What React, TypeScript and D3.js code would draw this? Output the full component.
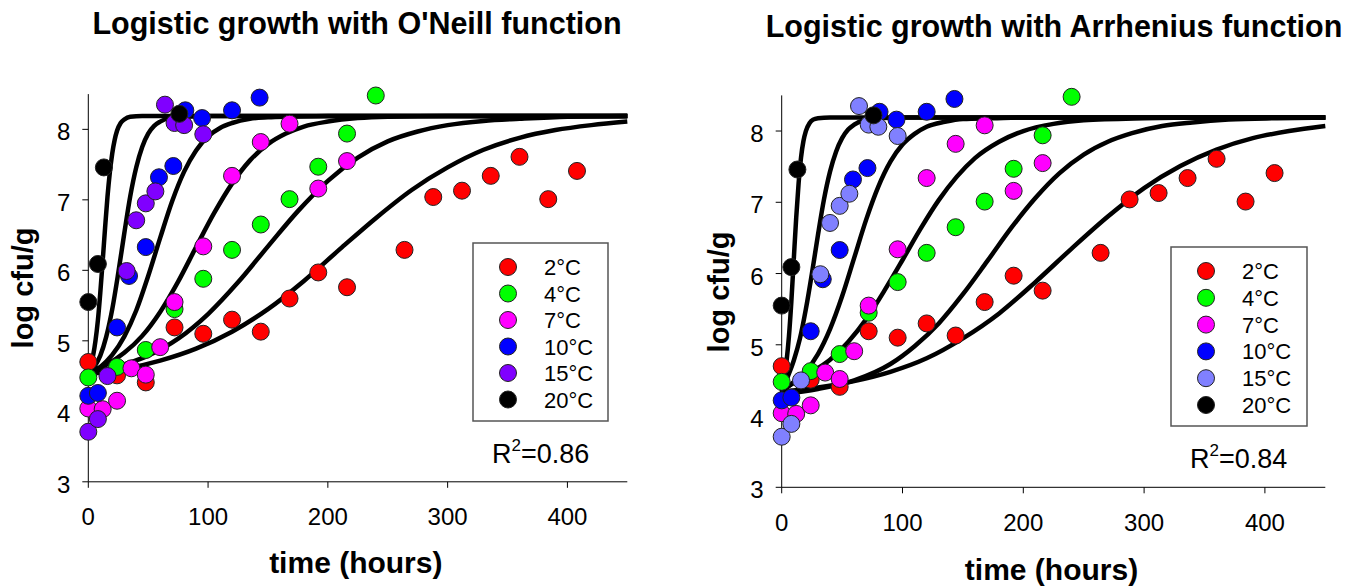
import React from 'react';
import * as d3 from 'd3';

// ---- observed counts (log cfu/g) by storage temperature ----
const temps = ['2°C', '4°C', '7°C', '10°C', '15°C', '20°C'];

const hours2 = [0, 24, 48, 72, 96, 120, 144, 168, 192, 216, 264, 288, 312, 336, 360, 384, 408];
const log2 = [4.70, 4.51, 4.41, 5.19, 5.10, 5.30, 5.13, 5.60, 5.97, 5.76, 6.29, 7.04, 7.13, 7.34, 7.61, 7.01, 7.41];

const hours4 = [0, 24, 48, 72, 96, 120, 144, 168, 192, 216, 240];
const log4 = [4.48, 4.63, 4.87, 5.45, 5.88, 6.29, 6.65, 7.01, 7.47, 7.94, 8.48];

const hours7 = [0, 12, 24, 36, 48, 60, 72, 96, 120, 144, 168, 192, 216];
const log7 = [4.04, 4.03, 4.15, 4.61, 4.52, 4.91, 5.55, 6.34, 7.34, 7.82, 8.08, 7.16, 7.55];

const hours10 = [0, 8, 24, 34, 48, 59, 71, 81, 95, 120, 143];
const log10 = [4.22, 4.26, 5.19, 5.92, 6.33, 7.32, 7.48, 8.27, 8.16, 8.27, 8.45];

const hours15 = [0, 8, 16, 32, 40, 48, 56, 64, 72, 80, 96];
const log15 = [3.71, 3.89, 4.50, 5.99, 6.71, 6.95, 7.12, 8.35, 8.09, 8.06, 7.93];

const hours20 = [0, 8, 13, 76];
const log20 = [5.55, 6.09, 7.46, 8.22];

const hoursByTemp = [hours2, hours4, hours7, hours10, hours15, hours20];
const logByTemp = [log2, log4, log7, log10, log15, log20];

// ---- fitted logistic curves, O'Neill temperature function ([hours, log cfu/g]) ----
const oneill20: [number, number][] = [[0, 4.55], [2, 4.64], [4, 4.79], [6, 5.0], [8, 5.29], [10, 5.68], [12, 6.13], [14, 6.6], [16, 7.04], [18, 7.39], [20, 7.66], [22, 7.85], [24, 7.98], [27, 8.09], [30, 8.14], [35, 8.18], [45, 8.19], [450, 8.19]];
const oneill15: [number, number][] = [[0, 4.53], [5, 4.63], [10, 4.79], [15, 5.06], [20, 5.45], [25, 5.96], [30, 6.52], [35, 7.05], [40, 7.46], [45, 7.75], [50, 7.94], [55, 8.05], [60, 8.11], [70, 8.17], [80, 8.18], [100, 8.19], [450, 8.19]];
const oneill10: [number, number][] = [[0, 4.53], [10, 4.63], [20, 4.8], [30, 5.06], [40, 5.43], [50, 5.92], [60, 6.46], [70, 6.98], [80, 7.4], [90, 7.7], [100, 7.9], [110, 8.02], [120, 8.09], [135, 8.15], [150, 8.17], [170, 8.18], [200, 8.19], [450, 8.19]];
const oneill7: [number, number][] = [[0, 4.56], [15, 4.66], [30, 4.83], [45, 5.07], [60, 5.41], [75, 5.84], [90, 6.33], [105, 6.81], [120, 7.23], [135, 7.56], [150, 7.79], [165, 7.94], [180, 8.04], [200, 8.11], [225, 8.16], [250, 8.18], [300, 8.19], [450, 8.19]];
const oneill4: [number, number][] = [[0, 4.54], [25, 4.64], [50, 4.79], [75, 5.03], [100, 5.38], [125, 5.83], [150, 6.34], [175, 6.84], [200, 7.27], [225, 7.6], [250, 7.83], [275, 7.97], [300, 8.06], [330, 8.12], [360, 8.15], [400, 8.18], [450, 8.19]];
const oneill2: [number, number][] = [[0, 4.53], [30, 4.6], [60, 4.72], [90, 4.89], [120, 5.13], [150, 5.45], [180, 5.85], [210, 6.3], [240, 6.74], [270, 7.14], [300, 7.46], [330, 7.71], [360, 7.88], [390, 7.99], [420, 8.06], [450, 8.11]];

// ---- fitted logistic curves, Arrhenius temperature function ----
const arrh20: [number, number][] = [[0, 4.35], [2, 4.53], [4, 4.77], [6, 5.12], [8, 5.61], [10, 6.2], [12, 6.78], [14, 7.27], [16, 7.63], [18, 7.86], [20, 8.0], [23, 8.11], [26, 8.16], [30, 8.18], [40, 8.19], [450, 8.19]];
const arrh15: [number, number][] = [[0, 4.33], [5, 4.55], [10, 4.78], [15, 5.08], [20, 5.5], [25, 6.0], [30, 6.54], [35, 7.04], [40, 7.43], [45, 7.71], [50, 7.9], [55, 8.02], [60, 8.09], [70, 8.16], [80, 8.18], [100, 8.19], [450, 8.19]];
const arrh10: [number, number][] = [[0, 4.34], [10, 4.48], [20, 4.63], [30, 4.87], [40, 5.22], [50, 5.68], [60, 6.22], [70, 6.76], [80, 7.22], [90, 7.57], [100, 7.81], [110, 7.96], [120, 8.06], [135, 8.13], [150, 8.17], [175, 8.18], [200, 8.19], [450, 8.19]];
const arrh7: [number, number][] = [[0, 4.36], [20, 4.57], [40, 4.79], [55, 5.04], [70, 5.36], [85, 5.76], [100, 6.19], [115, 6.63], [130, 7.03], [145, 7.36], [160, 7.62], [180, 7.85], [200, 8.0], [225, 8.1], [250, 8.15], [300, 8.18], [350, 8.19], [450, 8.19]];
const arrh4: [number, number][] = [[0, 4.31], [30, 4.38], [60, 4.5], [90, 4.73], [110, 4.98], [130, 5.3], [150, 5.71], [170, 6.17], [190, 6.64], [210, 7.06], [230, 7.41], [250, 7.67], [270, 7.85], [290, 7.97], [315, 8.07], [340, 8.12], [370, 8.16], [410, 8.18], [450, 8.19]];
const arrh2: [number, number][] = [[0, 4.34], [30, 4.4], [60, 4.49], [90, 4.62], [120, 4.81], [150, 5.09], [180, 5.44], [210, 5.88], [240, 6.35], [270, 6.8], [300, 7.2], [330, 7.51], [360, 7.74], [390, 7.9], [420, 8.0], [450, 8.07]];

const xTicks = [0, 100, 200, 300, 400];
const yTicks = [3, 4, 5, 6, 7, 8];

const coloursOneill = ['#ff0000', '#00ff00', '#ff00ff', '#0000ff', '#8000ff', '#000000'];
const coloursArrh = ['#ff0000', '#00ff00', '#ff00ff', '#0000ff', '#8080ff', '#000000'];

const FONT = "Arial, 'Liberation Sans', Helvetica, sans-serif";

interface PanelSpec {
  title: string;
  titleX: number;
  titleY: number;
  x0: number; x1: number;
  y3: number; y85: number;
  yLabelX: number; yLabelY: number;
  xLabelY: number;
  tickLabelDy: number;
  colours: string[];
  curves: [number, number][][];
  legendBox: [number, number, number, number];
  legendStep: number;
  r2: string;
  r2X: number; r2Y: number;
}

const panels: PanelSpec[] = [
  {
    title: "Logistic growth with O'Neill function",
    titleX: 357, titleY: 34,
    x0: 88.3, x1: 627.3, y3: 481.8, y85: 94.1,
    yLabelX: 33, yLabelY: 288,
    xLabelY: 573, tickLabelDy: 43,
    colours: coloursOneill,
    curves: [oneill2, oneill4, oneill7, oneill10, oneill15, oneill20],
    legendBox: [473, 243, 608, 421], legendStep: 26.5,
    r2: '0.86', r2X: 492, r2Y: 463,
  },
  {
    title: 'Logistic growth with Arrhenius function',
    titleX: 1054, titleY: 37,
    x0: 781.7, x1: 1325.3, y3: 487.3, y85: 95.4,
    yLabelX: 729, yLabelY: 292,
    xLabelY: 580, tickLabelDy: 44,
    colours: coloursArrh,
    curves: [arrh2, arrh4, arrh7, arrh10, arrh15, arrh20],
    legendBox: [1171, 247, 1307, 426], legendStep: 26.8,
    r2: '0.84', r2X: 1190, r2Y: 468,
  },
];

function Panel({ p }: { p: PanelSpec }) {
  const x = d3.scaleLinear().domain([0, 450]).range([p.x0, p.x1]);
  const y = d3.scaleLinear().domain([3, 8.5]).range([p.y3, p.y85]);
  const line = d3.line<[number, number]>()
    .x((d) => x(d[0]))
    .y((d) => y(d[1]))
    .curve(d3.curveMonotoneX);
  const [lx0, ly0, lx1, ly1] = p.legendBox;
  const legendMarkX = lx0 + 35;
  const legendTextX = lx0 + 71;
  const legendFirstY = ly0 + 24;
  return (
    <g>
      <text x={p.titleX} y={p.titleY} textAnchor="middle" fontFamily={FONT} fontWeight="bold" fontSize={30.5}>
        {p.title}
      </text>

      {/* axes */}
      <line x1={p.x0} x2={p.x0} y1={p.y3} y2={p.y85} stroke="#000" strokeWidth={1} />
      <line x1={p.x0} x2={p.x1} y1={p.y3} y2={p.y3} stroke="#000" strokeWidth={1} />
      {yTicks.map((t) => (
        <g key={'y' + t}>
          <line x1={p.x0 - 6} x2={p.x0} y1={y(t)} y2={y(t)} stroke="#000" strokeWidth={1} />
          <text x={p.x0 - 18} y={y(t) + 11} textAnchor="end" fontFamily={FONT} fontSize={24}>{t}</text>
        </g>
      ))}
      {xTicks.map((t) => (
        <g key={'x' + t}>
          <line x1={x(t)} x2={x(t)} y1={p.y3} y2={p.y3 + 6} stroke="#000" strokeWidth={1} />
          <text x={x(t)} y={p.y3 + p.tickLabelDy} textAnchor="middle" fontFamily={FONT} fontSize={24}>{t}</text>
        </g>
      ))}
      <text x={(p.x0 + p.x1) / 2 - 2} y={p.xLabelY} textAnchor="middle" fontFamily={FONT} fontWeight="bold" fontSize={30}>
        time (hours)
      </text>
      <text transform={`translate(${p.yLabelX},${p.yLabelY}) rotate(-90)`} textAnchor="middle" fontFamily={FONT} fontWeight="bold" fontSize={29}>
        log cfu/g
      </text>

      {/* fitted curves */}
      {p.curves.map((c, i) => (
        <path key={'c' + i} d={line(c) ?? ''} fill="none" stroke="#000" strokeWidth={4.5} strokeLinejoin="round" />
      ))}

      {/* observations */}
      {hoursByTemp.map((hs, i) => (
        <g key={'s' + i}>
          {hs.map((h, j) => (
            <circle key={j} cx={x(h)} cy={y(logByTemp[i][j])} r={8.5} fill={p.colours[i]} stroke="#222" strokeWidth={1} />
          ))}
        </g>
      ))}

      {/* legend */}
      <rect x={lx0} y={ly0} width={lx1 - lx0} height={ly1 - ly0} fill="#fff" stroke="#555" strokeWidth={1.5} />
      {temps.map((tname, i) => (
        <g key={'l' + i}>
          <circle cx={legendMarkX} cy={legendFirstY + i * p.legendStep} r={8.5} fill={p.colours[i]} stroke="#222" strokeWidth={1} />
          <text x={legendTextX} y={legendFirstY + i * p.legendStep + 8} fontFamily={FONT} fontSize={22}>{tname}</text>
        </g>
      ))}

      <text x={p.r2X} y={p.r2Y} fontFamily={FONT} fontSize={27}>
        R<tspan dy={-12} fontSize={17}>2</tspan><tspan dy={12}>={p.r2}</tspan>
      </text>
    </g>
  );
}

export default function App() {
  return (
    <svg width={1362} height={587} style={{ position: 'absolute', left: 0, top: 0, background: '#fff' }}>
      <rect x={0} y={0} width={1362} height={587} fill="#fff" />
      {panels.map((p, i) => (
        <Panel key={i} p={p} />
      ))}
    </svg>
  );
}
